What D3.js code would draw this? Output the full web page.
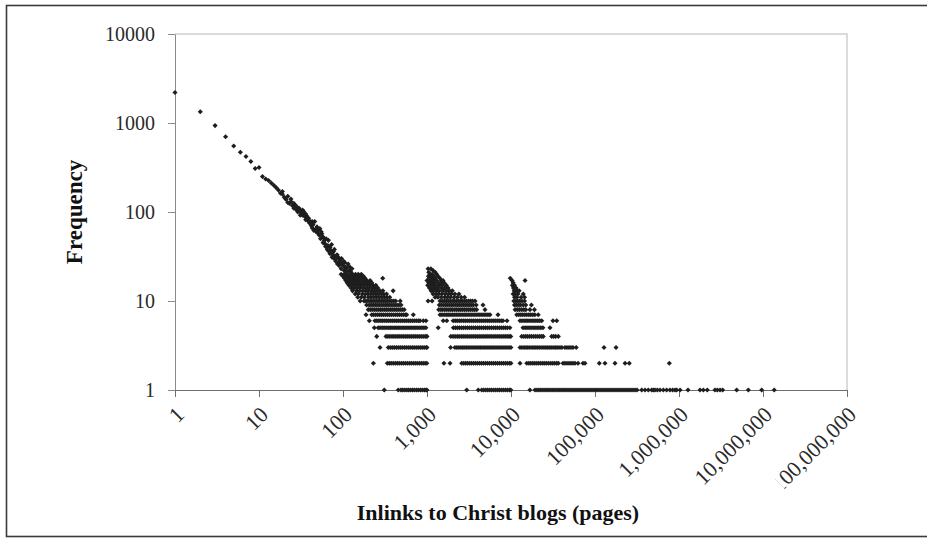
<!DOCTYPE html>
<html><head><meta charset="utf-8">
<script src="https://cdn.jsdelivr.net/npm/d3@7"></script>
<style>body{margin:0;background:#fff}svg{display:block}</style>
</head><body>
<svg id="chart" width="927" height="541"></svg>
<script>
// ---- axis ticks ----
const xTicks = [1, 10, 100, 1000, 1e4, 1e5, 1e6, 1e7, 1e8];
const xTickLabels = ["1", "10", "100", "1,000", "10,000", "100,000", "1,000,000", "10,000,000", "100,000,000"];
const yTicks = [1, 10, 100, 1000, 10000];
const yTickLabels = ["1", "10", "100", "1000", "10000"];
const xTitle = "Inlinks to Christ blogs (pages)";
const yTitle = "Frequency";

// ---- power-law diagonal: inlinks and frequency ----
const diagX = [1,2,3,4,5,6,7,8,9,10,11,12,13,14,15,16,17,18,19,20,21,22,23,24,25,26,27,28,29,30,31,32,33,34,35,36,37,39,40,41,42,43,44,45,46,47,49,50,51,52,53,54,56,57,58,59,60,61,62,64,65,67,68,70,72,73,74,75,77,78,80,82,84,86,88,90,92,93,95,97,100,103,105,108,110,112,115,118,121,125,128,
  19,22,24,26,28,31,33,36,38,43,48,55,58,63,66,70,76,79,85,91,96,102,106];
const diagF = [2200,1340,935,700,552,470,420,370,308,316,250,235,226,212,200,188,177,163,158,146,138,150,125,131,118,125,120,105,100,110,104,96,92,101,89,82,90,85,75,78,70,66,72,62,78,64,68,58,63,55,65,50,57,53,52,46,48,44,41,41,38,48,36,34,37,43,31,35,36,30,32,28,30,26,31,25,29,27,23,26,25,22,27,23,21,24,26,22,24,21,23,
  170,128,140,110,115,92,105,95,80,78,60,60,45,50,42,40,33,38,33,28,30,28,24];

// ---- inlink values observed at each low frequency ----
const f1X = [310,455,490,515,545,575,605,640,675,710,750,790,835,880,930,975,998,
  2970,4080,4480,4730,5000,5280,5580,5890,6220,6570,6940,7330,7740,8180,8640,9120,9640,9950,
  16800,19300,20400,21500,22700,24000,25400,26800,28300,29900,31600,33400,35300,37300,39400,41600,43900,46400,49000,51800,54700,57800,61100,64500,68100,72000,76000,80300,84900,89600,94700,100000,105600,111600,117900,124500,131500,138900,146800,155000,163800,173000,182800,193100,204000,215400,227600,240400,254000,268300,283400,299400,316300,
  360000,394000,431000,473000,495000,518000,552000,594000,651000,713000,781000,840000,896000,938000,1030000,1280000,1780000,1950000,2170000,2680000,2860000,3080000,3310000,4860000,6690000,9640000,13600000];
const f2X = [230,337,355,375,397,420,443,468,495,523,552,583,616,650,687,725,766,810,855,903,950,995,
  1590,1880,2590,2740,2890,3050,3220,3400,3590,3790,4000,4230,4460,4710,4980,5260,5550,5860,6190,6540,6910,7300,7710,8140,8600,9080,9590,9980,
  12800,15400,16300,17200,18200,19200,20300,21400,22600,23900,25200,26600,28100,29700,31400,33100,35000,36600,41600,43900,46400,49000,51800,54700,57800,62800,72000,76000,
  112500,131500,173000,228000,256000,767000];
const f3X = [276,346,366,386,408,431,455,480,507,536,566,598,631,667,704,744,786,830,876,925,977,999,
  1910,2150,2270,2400,2540,2680,2830,2990,3160,3340,3530,3730,3940,4160,4390,4640,4900,5180,5470,5780,6100,6450,6810,7200,7600,8030,8480,8960,9470,9980,
  12800,13500,14300,15100,15900,16800,17800,18800,19800,20900,22100,23400,24700,26100,27500,29100,30700,32500,34300,36200,38300,40400,43900,46400,49000,51800,54700,59800,
  128000,178000];
const f4X = [252,325,343,362,383,404,427,451,476,503,531,561,592,626,661,698,737,778,822,868,917,968,1000,
  1920,2040,2160,2290,2410,2550,2690,2840,3000,3170,3350,3540,3740,3950,4170,4400,4650,4910,5190,5480,5790,6120,6460,6830,7210,7620,8050,8500,8980,9480,9930,
  13400,14200,15000,15800,16700,17600,18600,19700,20800,22000,23200,24200,30500,32200,34000,36600];
const f5X = [236,262,276,292,308,325,344,363,383,405,428,452,477,504,532,562,594,627,662,700,739,780,824,870,919,970,
  1360,2060,2180,2300,2430,2570,2710,2870,3030,3200,3380,3570,3770,3980,4200,4440,4690,4950,5230,5530,5840,6170,6510,6880,7270,7680,8110,8560,9050,9700,
  13900,14700,15500,16400,17300,18300,19300,20400,21500,22700,24000,29100];
const f6X = [206,240,253,268,283,298,315,333,351,371,392,414,437,461,487,515,544,574,606,640,676,714,754,796,826,903,973,
  1560,1720,2050,2170,2290,2420,2550,2700,2850,3010,3180,3360,3550,3750,3960,4180,4420,4670,4930,5210,5500,5810,6140,6480,6850,7230,7640,8020,8960,
  12800,13500,14300,15100,15900,16800,17800,18800,19800,20900,22000,23200,31600,35000];
const f7X = [188,220,232,245,259,274,289,305,322,340,359,379,400,423,446,471,498,526,555,573,687,
  1430,1510,1600,1690,1780,1880,1990,2100,2220,2340,2470,2610,2760,2910,3080,3250,3430,3630,3830,4050,4270,4510,4770,5040,5320,5620,7000,
  11700,12400,13100,13800,14600,15400,16300,17200,18200,19200,21100];
const f8X = [200,211,223,236,249,263,278,293,310,327,345,365,385,407,430,454,480,507,535,
  1380,1460,1540,1630,1720,1820,1920,2020,2140,2260,2390,2520,2660,2810,2970,3140,3310,3500,3700,3900,4900,
  11200,11900,12600,13400,14200,15000,16800,19000];
const f9X = [191,205,217,229,242,255,270,285,301,318,335,354,374,395,417,440,465,491,
  1400,1480,1570,1660,1750,1850,1950,2060,2180,2300,2430,2570,2710,2860,3020,3190,3370,3560,3850,4640,
  11000,11600,12300,13000,14000,15000,17500];
const f10X = [160,178,188,198,210,221,234,247,261,275,291,307,324,342,361,381,402,424,480,
  1030,1150,1430,1520,1610,1700,1800,1900,2010,2120,2240,2370,2500,2640,2790,2950,3120,3300,3480,3730,
  10800,11400,12000,12700,13500,14500];
const f11X = [150,165,180,200,215,232,250,270,290,312,335,360,1250,1350,1480,1620,1750,1900,2100,2300,2550,2800,11000,11800,13200,14500];
const f12X = [140,152,170,185,198,212,228,245,262,285,305,330,1180,1280,1380,1500,1650,1800,1950,2150,2400,10600,11300,12100,14000];
const f13X = [130,145,158,172,186,200,218,236,255,275,298,395,1120,1200,1300,1400,1550,1700,1850,2000,10900,11800,12500];
const f14X = [125,136,148,160,175,190,205,224,240,260,1070,1150,1240,1330,1480,1620,1780,10700,11500];
const f15X = [118,128,140,152,165,178,194,210,228,246,1020,1090,1170,1260,1400,1520,1700,10400,11000];
const f16X = [112,122,134,146,158,172,186,202,220,1050,1130,1220,1350,1450,1600,10600];
const f17X = [108,118,128,138,150,162,176,192,210,1000,1100,1180,1300,1480,1550,10300,14700];
const f18X = [104,113,122,132,143,155,168,183,297,1060,1140,1250,1420,9800];
const f19X = [100,108,117,126,137,148,160,175,1040,1120,1200,1350];
const f20X = [95,103,112,120,130,141,152,165,1080,1150,1300];
const f21X = [1050,1250];
const f22X = [1180];
const f23X = [1030,1110];

const rowLists = [f1X,f2X,f3X,f4X,f5X,f6X,f7X,f8X,f9X,f10X,f11X,f12X,f13X,f14X,f15X,f16X,f17X,f18X,f19X,f20X,f21X,f22X,f23X];

// ---- build point table ----
const points = [];
diagX.forEach((v, i) => points.push({x: v, f: diagF[i]}));
rowLists.forEach((arr, i) => arr.forEach(v => points.push({x: v, f: i + 1})));

// ---- drawing ----
const svg = d3.select("#chart");
const serif = "'Liberation Serif', 'Times New Roman', serif";

// outer frame
svg.append("rect").attr("x", 6.5).attr("y", 5.5).attr("width", 935).attr("height", 531)
  .attr("fill", "none").attr("stroke", "#3a3a3a").attr("stroke-width", 1.6);

const x = d3.scaleLog().domain([1, 1e8]).range([175, 847]);
const y = d3.scaleLog().domain([1, 1e4]).range([390, 34]);

// plot area border (top & right)
svg.append("path")
  .attr("d", `M${x(1)},${y(1e4)}H${x(1e8)}V${y(1)}`)
  .attr("fill", "none").attr("stroke", "#cfcfcf").attr("stroke-width", 1.5);

// y axis
const yAxis = svg.append("g").attr("transform", `translate(${x(1)},0)`)
  .call(d3.axisLeft(y).tickValues(yTicks).tickFormat((d, i) => yTickLabels[i]).tickSize(7).tickPadding(13).tickSizeOuter(0));
yAxis.select(".domain").attr("stroke", "#8a8a8a");
yAxis.selectAll(".tick line").attr("stroke", "#8a8a8a");
yAxis.selectAll(".tick text").attr("font-family", serif).attr("font-size", 20).attr("fill", "#2a2a2a");

// x axis
const xAxis = svg.append("g").attr("transform", `translate(0,${y(1)})`)
  .call(d3.axisBottom(x).tickValues(xTicks).tickFormat((d, i) => xTickLabels[i]).tickSize(7).tickSizeOuter(0));
xAxis.select(".domain").attr("stroke", "#6e6e6e");
xAxis.selectAll(".tick line").attr("stroke", "#6e6e6e");

const fs = 22;
xAxis.selectAll(".tick text")
  .attr("font-family", serif).attr("font-size", fs).attr("fill", "#2a2a2a")
  .attr("text-anchor", "end")
  .attr("x", 0).attr("y", 0).attr("dy", "0.71em")
  .attr("transform", "translate(-1,15) rotate(-45)");

// the longest label is cut at its start, as in the original (clip in the label's own rotated frame)
const lastText = xAxis.selectAll(".tick text").filter((d, i) => i === xTicks.length - 1);
const lastLen = lastText.node().getComputedTextLength();
svg.append("clipPath").attr("id", "lastclip").append("rect")
  .attr("x", -lastLen + 7).attr("y", -30).attr("width", lastLen + 20).attr("height", 70);
lastText.attr("clip-path", "url(#lastclip)");

// points: small rotated-square markers
const sym = d3.symbol().type(d3.symbolSquare).size(13);
svg.append("g").selectAll("path").data(points).join("path")
  .attr("d", sym)
  .attr("transform", d => `translate(${x(d.x)},${y(d.f)}) rotate(45)`)
  .attr("fill", "#1e1e1e");

// titles
svg.append("text").attr("x", 498).attr("y", 520).attr("text-anchor", "middle")
  .attr("font-family", serif).attr("font-weight", "bold").attr("font-size", 22).attr("fill", "#111")
  .text(xTitle);
svg.append("text").attr("transform", "translate(82,212) rotate(-90)").attr("text-anchor", "middle")
  .attr("font-family", serif).attr("font-weight", "bold").attr("font-size", 23).attr("fill", "#111")
  .text(yTitle);
</script>
</body></html>
